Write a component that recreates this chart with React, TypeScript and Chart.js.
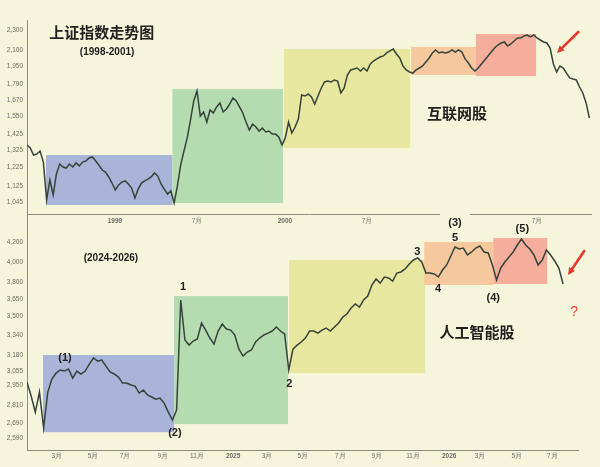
import React, { useEffect, useRef } from "react";
import { Chart, registerables } from "chart.js";

Chart.register(...registerables);

const PAGE_BG = "#f4f5da";
const LINE_COLOR = "#36433a";
const AXIS_COLOR = "#8d8d84";
const TICK_COLOR = "#6b6b66";
const FAMILY = "'Liberation Sans', Arial, sans-serif";
const CJK = "'Noto Sans CJK SC', 'Noto Sans', sans-serif";

// ---------- Top panel: 1998-2001, one close per week (week 0 = early Jul 1998) ----------
const topValues = [
  1357, 1339, 1296, 1302, 1320, 1255, 1055, 1156, 1079, 1188,
  1244, 1227, 1221, 1244, 1227, 1250, 1233, 1255, 1261, 1279,
  1285, 1261, 1238, 1210, 1199, 1172, 1140, 1104, 1130, 1145,
  1151, 1135, 1114, 1064, 1109, 1140, 1151, 1161, 1172, 1194,
  1177, 1135, 1109, 1084, 1099, 1040, 1125, 1238, 1320, 1402,
  1522, 1661, 1739, 1550, 1579, 1508, 1594, 1572, 1616, 1646,
  1579, 1601, 1638, 1684, 1661, 1616, 1572, 1508, 1454, 1494,
  1474, 1447, 1467, 1441, 1447, 1427, 1427, 1408, 1357, 1402,
  1508, 1434, 1474, 1529, 1707, 1699, 1715, 1692, 1638, 1699,
  1763, 1812, 1820, 1812, 1829, 1820, 1723, 1763, 1871, 1915,
  1923, 1932, 1906, 1932, 1906, 1968, 1995, 2014, 2032, 2042,
  2070, 2089, 2108, 2060, 2023, 1950, 1915, 1897, 1888, 1915,
  1932, 1950, 1986, 2023, 2070, 2099, 2070, 2079, 2070, 2079,
  2099, 2079, 2099, 2079, 2014, 1977, 1932, 1906, 1932, 1968,
  2005, 2042, 2079, 2118, 2147, 2167, 2177, 2137, 2157, 2187,
  2217, 2217, 2238, 2248, 2228, 2248, 2217, 2197, 2177, 2167,
  2118, 1968, 1897, 1950, 1932, 1888, 1846, 1837, 1829, 1771,
  1723, 1646, 1536,
];
const topYTicks = [1045, 1125, 1225, 1325, 1425, 1550, 1670, 1790, 1950, 2100, 2300];
const topXTickWeeks = [26.9, 52.0, 78.9, 104.0, 156.0];
const topXTickLabels = ["1999", "7月", "2000", "7月", "7月"];
// phase boxes (weeks / index values)
const topBoxStart = [5.8, 44.5, 78.6, 117.5, 137.3];
const topBoxEnd = [44.5, 78.3, 117.2, 137.3, 155.7];
const topBoxLow = [1031, 1040, 1339, 1871, 1862];
const topBoxHigh = [1296, 1755, 2108, 2128, 2258];

// ---------- Bottom panel: 2024-2026, one close per week (week 0 = mid Jan 2024) ----------
const bottomValues = [
  2973, 2873, 2761, 2901, 2655, 2901, 2996, 3040, 3063, 3055,
  3070, 3003, 3055, 3033, 3055, 3108, 3155, 3131, 3139, 3093,
  3048, 3033, 3010, 2966, 2966, 2952, 2944, 2894, 2915, 2880,
  2866, 2851, 2858, 2823, 2761, 2708, 2775, 3640, 3298, 3257,
  3290, 3306, 3439, 3380, 3314, 3265, 3372, 3430, 3389, 3380,
  3339, 3225, 3170, 3202, 3218, 3282, 3314, 3339, 3355, 3372,
  3405, 3372, 3347, 3063, 3225, 3257, 3282, 3314, 3372, 3372,
  3355, 3380, 3397, 3372, 3405, 3439, 3490, 3516, 3569, 3604,
  3577, 3640, 3676, 3777, 3833, 3795, 3852, 3843, 3814, 3890,
  3900, 3929, 3978, 4017, 4037, 3997, 3890, 3890, 3881, 3852,
  3919, 3968, 4057, 4148, 4127, 4137, 4067, 4097, 4137, 4158,
  4097, 4087, 3968, 3824, 3938, 3997, 4047, 4097, 4168, 4230,
  4168, 4127, 4067, 3968, 4017, 4117, 4067, 4007, 3938, 3786,
];
const bottomYTicks = [2590, 2690, 2810, 2950, 3055, 3180, 3340, 3500, 3650, 3800, 4000, 4200];
const bottomXTickWeeks = [7.2, 15.9, 23.6, 32.7, 40.9, 49.6, 57.8, 66.4, 75.4, 84.2, 92.9, 101.6, 109.0, 117.9, 126.4];
const bottomXTickLabels = ["3月", "5月", "7月", "9月", "11月", "2025", "3月", "5月", "7月", "9月", "11月", "2026", "3月", "5月", "7月"];
const bottomBoxStart = [3.85, 35.4, 63.1, 95.6, 112.2];
const bottomBoxEnd = [35.4, 62.8, 95.8, 112.2, 125.2];
const bottomBoxLow = [2628, 2681, 3040, 3777, 3786];
const bottomBoxHigh = [3178, 3675, 4017, 4200, 4241];

const BOX_COLORS = ["#a9b4d8", "#b5dbb1", "#e7e79f", "#f5c89d", "#f5ae9b"];

type Label = {
  text: string;
  x: number;
  y: number;
  size: number;
  weight?: string;
  color?: string;
  family?: string;
  patch?: [number, number, number];
};

const topLabels: Label[] = [
  { text: "上证指数走势图", x: 22.9, y: 2279, size: 15, weight: "bold", family: CJK },
  { text: "(1998-2001)", x: 24.5, y: 2079, size: 10, weight: "bold" },
  { text: "互联网股", x: 131.5, y: 1570, size: 15, weight: "bold", family: CJK },
];
const topArrows = [[168.6, 2279, 162.1, 2070]];

const bottomLabels: Label[] = [
  { text: "(2024-2026)", x: 20.2, y: 4037, size: 10, weight: "bold" },
  { text: "(1)", x: 9.15, y: 3155, size: 11, weight: "bold" },
  { text: "(2)", x: 35.6, y: 2622, size: 11, weight: "bold" },
  { text: "1", x: 37.55, y: 3758, size: 11, weight: "bold" },
  { text: "2", x: 63.1, y: 2959, size: 11, weight: "bold" },
  { text: "3", x: 93.9, y: 4097, size: 11, weight: "bold" },
  { text: "4", x: 98.9, y: 3740, size: 11, weight: "bold" },
  { text: "5", x: 103.0, y: 4241, size: 11, weight: "bold" },
  { text: "(3)", x: 103.0, y: 4400, size: 11, weight: "bold", patch: [15, 13, 9] },
  { text: "(4)", x: 112.2, y: 3658, size: 11, weight: "bold" },
  { text: "(5)", x: 119.2, y: 4336, size: 11, weight: "bold" },
  { text: "人工智能股", x: 108.3, y: 3364, size: 15, weight: "bold", family: CJK },
  { text: "?", x: 131.7, y: 3534, size: 14, weight: "normal", color: "#e2473a" },
];
const bottomArrows = [[134.1, 4107, 130.2, 3871]];

function overlayPlugin(
  starts: number[], ends: number[], lows: number[], highs: number[],
  labels: Label[], arrows: number[][]
) {
  return {
    id: "overlay",
    beforeDatasetsDraw(chart: any) {
      const { ctx, scales } = chart;
      const xs = scales.x, ys = scales.y;
      ctx.save();
      for (let i = 0; i < starts.length; i++) {
        const x0 = xs.getPixelForValue(starts[i]);
        const x1 = xs.getPixelForValue(ends[i]);
        const y0 = ys.getPixelForValue(highs[i]);
        const y1 = ys.getPixelForValue(lows[i]);
        ctx.fillStyle = BOX_COLORS[i];
        ctx.fillRect(x0, y0, x1 - x0, y1 - y0);
      }
      ctx.restore();
    },
    afterDatasetsDraw(chart: any) {
      const { ctx, scales } = chart;
      const xs = scales.x, ys = scales.y;
      ctx.save();
      for (const l of labels) {
        const px = xs.getPixelForValue(l.x);
        const py = ys.getPixelForValue(l.y);
        if (l.patch) {
          ctx.fillStyle = PAGE_BG;
          ctx.fillRect(px - l.patch[0], py - l.patch[1], l.patch[0] * 2, l.patch[1] + l.patch[2]);
        }
        ctx.font = `${l.weight || "normal"} ${l.size}px ${l.family || FAMILY}`;
        ctx.fillStyle = l.color || "#222222";
        ctx.textAlign = "center";
        ctx.textBaseline = "middle";
        ctx.fillText(l.text, px, py);
      }
      for (const a of arrows) {
        const x0 = xs.getPixelForValue(a[0]);
        const y0 = ys.getPixelForValue(a[1]);
        const x1 = xs.getPixelForValue(a[2]);
        const y1 = ys.getPixelForValue(a[3]);
        const ang = Math.atan2(y1 - y0, x1 - x0);
        const head = 8;
        ctx.strokeStyle = "#e2392e";
        ctx.fillStyle = "#e2392e";
        ctx.lineWidth = 2.6;
        ctx.lineCap = "round";
        ctx.beginPath();
        ctx.moveTo(x0, y0);
        ctx.lineTo(x1 - Math.cos(ang) * head * 0.6, y1 - Math.sin(ang) * head * 0.6);
        ctx.stroke();
        ctx.beginPath();
        ctx.moveTo(x1, y1);
        ctx.lineTo(x1 - head * Math.cos(ang - 0.45), y1 - head * Math.sin(ang - 0.45));
        ctx.lineTo(x1 - head * Math.cos(ang + 0.45), y1 - head * Math.sin(ang + 0.45));
        ctx.closePath();
        ctx.fill();
      }
      ctx.restore();
    },
  };
}

type PanelOpts = {
  values: number[];
  yTicks: number[];
  yMin: number;
  yMax: number;
  xTickPos: number[];
  xTickLabels: string[];
  xMax: number;
  padding: { top: number; right: number; left: number; bottom: number };
  xHeight: number;
  xTickPad: number;
  plugin: any;
};

function buildChart(canvas: HTMLCanvasElement, o: PanelOpts) {
  return new Chart(canvas, {
    type: "line",
    data: {
      datasets: [
        {
          data: o.values.map((v, i) => ({ x: i, y: v })),
          borderColor: LINE_COLOR,
          borderWidth: 1.5,
          pointRadius: 0,
          tension: 0,
          fill: false,
        },
      ],
    },
    options: {
      animation: false,
      responsive: false,
      maintainAspectRatio: false,
      layout: { padding: o.padding },
      plugins: { legend: { display: false }, tooltip: { enabled: false } },
      scales: {
        x: {
          type: "linear",
          min: 0,
          max: o.xMax,
          afterBuildTicks: (s: any) => {
            s.ticks = o.xTickPos.map((v) => ({ value: v }));
          },
          afterFit: (s: any) => {
            s.height = o.xHeight;
          },
          grid: { display: false, drawTicks: false },
          border: { display: true, color: AXIS_COLOR, width: 1 },
          ticks: {
            autoSkip: false,
            maxRotation: 0,
            padding: o.xTickPad,
            color: TICK_COLOR,
            callback: (_v: any, i: number) => o.xTickLabels[i],
            font: (c: any) => ({
              family: FAMILY,
              size: 6.5,
              weight: /^\d{4}$/.test(o.xTickLabels[c.index] ?? "") ? "bold" : "normal",
            }),
          },
        },
        y: {
          type: "logarithmic",
          min: o.yMin,
          max: o.yMax,
          afterBuildTicks: (s: any) => {
            s.ticks = o.yTicks.map((v) => ({ value: v }));
          },
          afterFit: (s: any) => {
            s.width = 27;
          },
          grid: { display: false, drawTicks: false },
          border: { display: true, color: AXIS_COLOR, width: 1 },
          ticks: {
            autoSkip: false,
            padding: 4,
            color: TICK_COLOR,
            font: { family: FAMILY, size: 6.5 },
            callback: (v: any) => Number(v).toLocaleString("en-US"),
          },
        },
      },
    } as any,
    plugins: [o.plugin],
  });
}

export default function App() {
  const topRef = useRef<HTMLCanvasElement>(null);
  const botRef = useRef<HTMLCanvasElement>(null);

  useEffect(() => {
    const top = buildChart(topRef.current!, {
      values: topValues,
      yTicks: topYTicks,
      yMin: 989,
      yMax: 2408,
      xTickPos: topXTickWeeks,
      xTickLabels: topXTickLabels,
      xMax: 172.5,
      padding: { top: 20, right: 9, left: 0, bottom: 0 },
      xHeight: 18,
      xTickPad: 3,
      plugin: overlayPlugin(topBoxStart, topBoxEnd, topBoxLow, topBoxHigh, topLabels, topArrows),
    });
    const bottom = buildChart(botRef.current!, {
      values: bottomValues,
      yTicks: bottomYTicks,
      yMin: 2515,
      yMax: 4499,
      xTickPos: bottomXTickWeeks,
      xTickLabels: bottomXTickLabels,
      xMax: 132.6,
      padding: { top: 9, right: 22, left: 0, bottom: 0 },
      xHeight: 17,
      xTickPad: 2,
      plugin: overlayPlugin(bottomBoxStart, bottomBoxEnd, bottomBoxLow, bottomBoxHigh, bottomLabels, bottomArrows),
    });
    return () => {
      top.destroy();
      bottom.destroy();
    };
  }, []);

  return (
    <div
      style={{
        position: "fixed",
        left: 0,
        top: 0,
        width: 600,
        height: 467,
        background: PAGE_BG,
        overflow: "hidden",
      }}
    >
      <canvas ref={topRef} width={600} height={232} style={{ position: "absolute", left: 0, top: 0 }} />
      <canvas ref={botRef} width={600} height={262} style={{ position: "absolute", left: 0, top: 205 }} />
    </div>
  );
}
